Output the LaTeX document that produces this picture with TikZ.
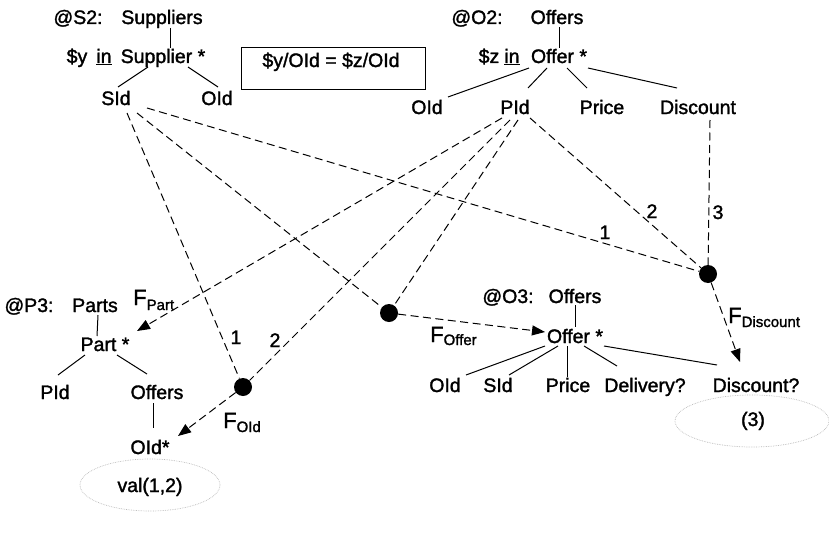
\documentclass[tikz,border=0pt]{standalone}
\usepackage{fontspec}
\setmainfont{Liberation Sans}[FakeBold=1.6]
\usetikzlibrary{arrows.meta,shapes.geometric}
\begin{document}
\begin{tikzpicture}[x=1pt,y=-1pt,
  lbl/.style={inner sep=0pt, anchor=base, font=\fontsize{19.5}{22}\selectfont},
  tl/.style={line width=1pt},
  dsh/.style={line width=1pt, dash pattern=on 8pt off 4.5pt},
  arr/.style={-{Triangle[length=13pt,width=10pt]}},
  dotn/.style={circle, fill=black, inner sep=0pt, minimum size=18pt},
  oval/.style={ellipse, draw=gray!55, densely dotted, line width=0.7pt, inner sep=0pt},
  Fl/.style={inner sep=0pt, anchor=base west, font=\fontsize{22}{24}\selectfont}
]
\useasboundingbox (0,0) rectangle (829,543);

% ---------- S2 tree ----------
\node[lbl] (s2lab) at (78,24) {@S2:};
\node[lbl] (suppliers) at (162,24) {Suppliers};
\node[lbl] (ydol) at (77,63) {\$y};
\node[lbl] (yin) at (104,63) {\underline{in}};
\node[lbl] (supplier) at (163,63) {Supplier *};
\node[lbl] (sid) at (116,105) {SId};
\node[lbl] (soid) at (217,105) {OId};
\coordinate (a1) at (170,28); \coordinate (a2) at (170,48);
\draw[tl] (a1) -- (a2);
\coordinate (b1) at (148,67); \coordinate (b2) at (118,87);
\draw[tl] (b1) -- (b2);
\coordinate (c1) at (188,67); \coordinate (c2) at (218,87);
\draw[tl] (c1) -- (c2);

% ---------- condition box ----------
\node[draw, line width=1pt, minimum width=184pt, minimum height=41pt, inner sep=0pt] (cond) at (333,68.5) {};
\node[lbl] (condt) at (331,67) {\$y/OId = \$z/OId};

% ---------- O2 tree ----------
\node[lbl] (o2lab) at (477,24) {@O2:};
\node[lbl] (offers2) at (557,24) {Offers};
\node[lbl] (zdol) at (489,63) {\$z};
\node[lbl] (zin) at (512,63) {\underline{in}};
\node[lbl] (offer2) at (559,63) {Offer *};
\node[lbl] (oid2) at (427,114) {OId};
\node[lbl] (pid2) at (515,114) {PId};
\node[lbl] (price2) at (602,114) {Price};
\node[lbl] (disc2) at (698,114) {Discount};
\coordinate (d1) at (559,27); \coordinate (d2) at (559,48);
\draw[tl] (d1) -- (d2);
\draw[tl] (529,68) coordinate (e1) -- (448,97) coordinate (e2);
\draw[tl] (547,68) coordinate (f1) -- (528,88) coordinate (f2);
\draw[tl] (567,68) coordinate (g1) -- (587,88) coordinate (g2);
\draw[tl] (588,68) coordinate (h1) -- (677,88) coordinate (h2);

% ---------- P3 tree ----------
\node[lbl] (p3lab) at (29,312) {@P3:};
\node[lbl] (parts) at (95,312) {Parts};
\node[lbl] (part) at (105,351) {Part *};
\node[lbl] (ppid) at (55,399) {PId};
\node[lbl] (poffers) at (157,399) {Offers};
\node[lbl] (poid) at (150,454) {OId*};
\node[oval, minimum width=140pt, minimum height=52pt] (val) at (150,485) {};
\node[lbl] (valt) at (150,492) {val(1,2)};
\draw[tl] (98,315) coordinate (i1) -- (97,336) coordinate (i2);
\draw[tl] (85,355) coordinate (j1) -- (58,375) coordinate (j2);
\draw[tl] (117,355) coordinate (k1) -- (147,374) coordinate (k2);
\draw[tl] (153,403) coordinate (l1) -- (153,428) coordinate (l2);

% ---------- O3 tree ----------
\node[lbl] (o3lab) at (508,303) {@O3:};
\node[lbl] (offers3) at (575,303) {Offers};
\node[lbl] (offer3) at (575,343) {Offer *};
\node[lbl] (oid3) at (445,392) {OId};
\node[lbl] (sid3) at (498,392) {SId};
\node[lbl] (price3) at (568,392) {Price};
\node[lbl] (deliv3) at (645,392) {Delivery?};
\node[lbl] (disc3) at (756,392) {Discount?};
\node[oval, minimum width=154pt, minimum height=52pt] (three) at (752,421) {};
\node[lbl] (threet) at (753,426) {(3)};
\draw[tl] (575,305) coordinate (m1) -- (575,327) coordinate (m2);
\draw[tl] (545,346) coordinate (n1) -- (466,375) coordinate (n2);
\draw[tl] (558,346) coordinate (o1) -- (509,375) coordinate (o2);
\draw[tl] (567,346) coordinate (p1) -- (567,377) coordinate (p2);
\draw[tl] (584,346) coordinate (q1) -- (617,366) coordinate (q2);
\draw[tl] (604,346) coordinate (r1) -- (717,365) coordinate (r2);

% ---------- join dots ----------
\node[dotn] (dOld) at (243,387) {};
\node[dotn] (dOffer) at (389,313) {};
\node[dotn] (dDisc) at (708,274) {};

% ---------- dashed mapping lines ----------
\coordinate (sA) at (127,113);
\coordinate (sB) at (137,113);
\coordinate (sC) at (147,108);
\coordinate (pA) at (502,118);
\coordinate (pB) at (510,120);
\coordinate (pC) at (518,120);
\coordinate (pD) at (530,118);
\coordinate (dA) at (710,120);

\draw[dsh] (sA) -- (dOld);
\draw[dsh] (sB) -- (dOffer);
\draw[dsh] (sC) -- (dDisc);
\draw[dsh] (pB) -- (dOld);
\draw[dsh] (pC) -- (dOffer);
\draw[dsh] (pD) -- (dDisc);
\draw[dsh] (dA) -- (dDisc);

\coordinate (tPart) at (137,331);
\coordinate (tOld) at (178,436);
\coordinate (tOffer) at (545,332);
\coordinate (tDisc) at (740,362);
\draw[dsh,arr] (pA) -- (tPart);
\draw[dsh,arr] (dOld) -- (tOld);
\draw[dsh,arr] (dOffer) -- (tOffer);
\draw[dsh,arr] (dDisc) -- (tDisc);

% ---------- labels ----------
\node[lbl] (n1a) at (236,344) {1};
\node[lbl] (n2a) at (275,347) {2};
\node[lbl] (n1b) at (605,239) {1};
\node[lbl] (n2b) at (652,218) {2};
\node[lbl] (n3) at (718,219) {3};

\node[Fl] (fpart) at (133,305) {F\raisebox{-5pt}{\fontsize{15}{17}\selectfont Part}};
\node[Fl] (fold) at (223,428) {F\raisebox{-4pt}{\fontsize{15}{17}\selectfont OId}};
\node[Fl] (foffer) at (430,342) {F\raisebox{-3pt}{\fontsize{15}{17}\selectfont Offer}};
\node[Fl] (fdisc) at (728,323) {F\raisebox{-4pt}{\fontsize{15}{17}\selectfont Discount}};
\end{tikzpicture}
\end{document}
